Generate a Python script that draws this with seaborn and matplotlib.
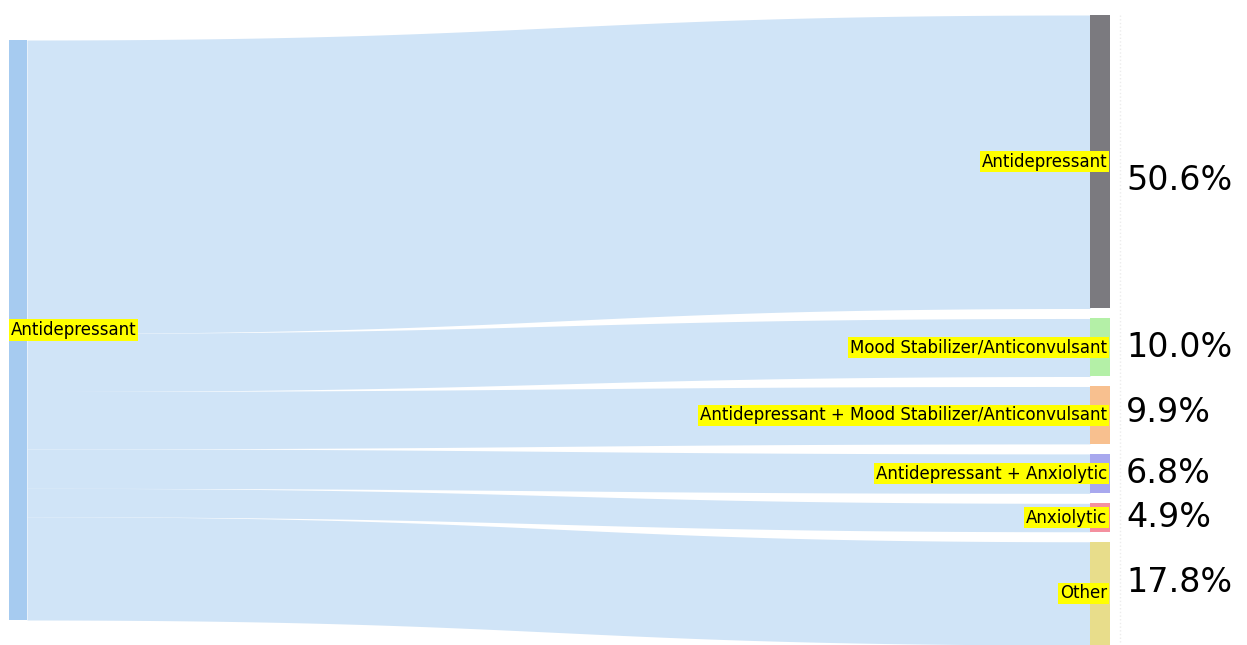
import numpy as np
import matplotlib
matplotlib.use("Agg")
import matplotlib.pyplot as plt
import seaborn as sns

# -------------------------------
# Data
# -------------------------------
source_label = "Antidepressant"
target_labels = [
    "Antidepressant",
    "Mood Stabilizer/Anticonvulsant",
    "Antidepressant + Mood Stabilizer/Anticonvulsant",
    "Antidepressant + Anxiolytic",
    "Anxiolytic",
    "Other",
]
shares = [50.6, 10.0, 9.9, 6.8, 4.9, 17.8]
pct_labels = ["50.6%", "10.0%", "9.9%", "6.8%", "4.9%", "17.8%"]

# -------------------------------
# Style
# -------------------------------
sns.set_theme(style="white")
plt.rcParams["font.family"] = ["DejaVu Sans"]

source_color = "#a6cbf0"
link_color = "#d0e4f7"
target_colors = ["#7b7a7f", "#b4f0a7", "#f8c08f", "#a8a8ee", "#f4909f", "#e8dd8b"]

W, H = 1247, 645
scale = 5.8          # px per percent
left_x0, left_x1 = 9, 27
right_x0, right_x1 = 1090, 1110
left_top = 40
right_top = 15
gap = 10
pct_offsets = [19, 0, -3, 0, 0, -11]

fig = plt.figure(figsize=(W / 100, H / 100), dpi=100)
ax = fig.add_axes([0, 0, 1, 1])
ax.set_xlim(0, W)
ax.set_ylim(H, 0)
ax.axis("off")


def bezier(y0, y1, n=200):
    t = np.linspace(0, 1, n)
    c = 0.5 * (right_x0 - left_x1)
    xs = [left_x1, left_x1 + c, right_x0 - c, right_x0]
    ys = [y0, y0, y1, y1]
    b = [(1 - t) ** 3, 3 * (1 - t) ** 2 * t, 3 * (1 - t) * t ** 2, t ** 3]
    x = sum(bi * xi for bi, xi in zip(b, xs))
    y = sum(bi * yi for bi, yi in zip(b, ys))
    return x, y


label_box = dict(boxstyle="square,pad=0.1", facecolor="yellow", edgecolor="none")

# source node
total = sum(shares) * scale
ax.add_patch(plt.Rectangle((left_x0, left_top), left_x1 - left_x0, total,
                           facecolor=source_color, edgecolor="none", zorder=3))

yl = left_top
yr = right_top
for label, share, col, pct, off in zip(target_labels, shares, target_colors, pct_labels, pct_offsets):
    h = share * scale
    x, top = bezier(yl, yr)
    _, bot = bezier(yl + h, yr + h)
    ax.fill_between(x, top, bot, color=link_color, linewidth=0, zorder=1)
    ax.add_patch(plt.Rectangle((right_x0, yr), right_x1 - right_x0, h,
                               facecolor=col, edgecolor="none", zorder=3))
    ax.text(right_x1 - 3, yr + h / 2, label, ha="right", va="center", fontsize=12,
            color="black", zorder=4, bbox=label_box)
    ax.text(1126, yr + h / 2 + off, pct, ha="left", va="center", fontsize=24,
            color="black", zorder=4)
    yl += h
    yr += h + gap

ax.text(11, left_top + total / 2, source_label, ha="left", va="center", fontsize=12,
        color="black", zorder=4, bbox=label_box)

ax.plot([1120, 1120], [15, 642], color="#ececec", linestyle=":", linewidth=1, zorder=0)

fig.savefig("out.png", dpi=100)
